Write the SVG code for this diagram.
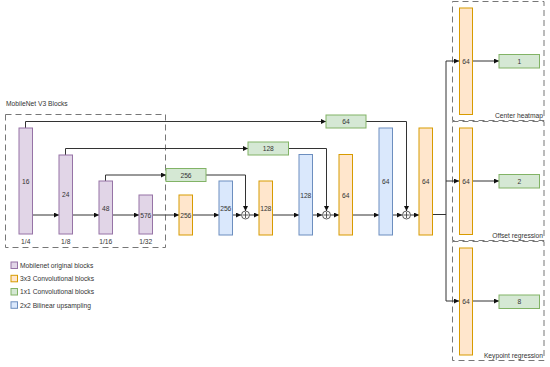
<svg xmlns="http://www.w3.org/2000/svg" width="550" height="367" viewBox="0 0 550 367">
<style>
text{font-family:"Liberation Sans",Arial,sans-serif;font-size:6.7px;fill:#333}
.c{text-anchor:middle;dominant-baseline:central}
.p{fill:#e1d5e7;stroke:#9673a6;stroke-width:1}
.o{fill:#ffe6cc;stroke:#d79b00;stroke-width:1}
.g{fill:#d5e8d4;stroke:#82b366;stroke-width:1}
.b{fill:#dae8fc;stroke:#6c8ebf;stroke-width:1}
.dash{fill:none;stroke:#777;stroke-width:1;stroke-dasharray:6 4}
.ln{fill:none;stroke:#333;stroke-width:1}
.a{marker-end:url(#arr)}
.plus{fill:#fff;stroke:#333;stroke-width:0.8}
</style>
<defs>
<marker id="arr" viewBox="0 0 10 10" refX="10" refY="5" markerWidth="5" markerHeight="5" orient="auto" markerUnits="userSpaceOnUse">
<path d="M0,0 L10,5 L0,10 z" fill="#111"/>
</marker>
</defs>
<rect width="550" height="367" fill="#fff"/>

<!-- groups / frames -->
<g id="mobilenet-group">
<text x="6" y="106">MobileNet V3 Blocks</text>
<rect class="dash" x="5.5" y="114.5" width="160" height="133"/>
</g>
<g id="center-heatmap-group">
<rect class="dash" x="452.5" y="1.5" width="91.5" height="119"/>
<text x="543" y="118" text-anchor="end">Center heatmap</text>
</g>
<g id="offset-group">
<rect class="dash" x="452.5" y="121.5" width="91.5" height="119"/>
<text x="543" y="238" text-anchor="end">Offset regression</text>
</g>
<g id="keypoint-group">
<rect class="dash" x="452.5" y="241.5" width="91.5" height="119"/>
<text x="543" y="358" text-anchor="end">Keypoint regression</text>
</g>

<!-- connectors -->
<g id="connectors">
<path class="ln a" d="M32.5,215 H59"/>
<path class="ln a" d="M72.5,215 H99"/>
<path class="ln a" d="M112.5,215 H139"/>
<path class="ln a" d="M152.5,215 H179"/>
<path class="ln a" d="M192.5,215 H219"/>
<path class="ln a" d="M232.5,215 H241"/>
<path class="ln a" d="M249.5,215 H259"/>
<path class="ln a" d="M272.5,215 H299"/>
<path class="ln a" d="M312.5,215 H322"/>
<path class="ln a" d="M330.5,215 H339"/>
<path class="ln a" d="M352.5,215 H379"/>
<path class="ln a" d="M392.5,215 H402"/>
<path class="ln a" d="M410.5,215 H419"/>
<path class="ln" d="M432.5,214.5 H446"/>
<path class="ln" d="M446,61 V301"/>
<path class="ln a" d="M446,61 H459"/>
<path class="ln a" d="M446,181 H459"/>
<path class="ln a" d="M446,301 H459"/>
<path class="ln a" d="M472.5,61 H499"/>
<path class="ln a" d="M472.5,181 H499"/>
<path class="ln a" d="M472.5,301 H499"/>
<!-- skips -->
<path class="ln a" d="M25.5,128 V121.5 H326"/>
<path class="ln a" d="M65.5,155 V148.5 H248"/>
<path class="ln a" d="M105.5,181 V175 H166"/>
<path class="ln a" d="M206,175 H245.5 V211"/>
<path class="ln a" d="M288.5,148.5 H326.5 V211"/>
<path class="ln a" d="M366,121.5 H406.5 V211"/>
</g>

<!-- encoder -->
<g id="mb16"><rect class="p" x="19" y="128" width="13.5" height="106"/><text class="c" x="25.75" y="181">16</text><text class="c" x="25.75" y="241.5">1/4</text></g>
<g id="mb24"><rect class="p" x="59" y="155" width="13.5" height="79"/><text class="c" x="65.75" y="194.5">24</text><text class="c" x="65.75" y="241.5">1/8</text></g>
<g id="mb48"><rect class="p" x="99" y="181" width="13.5" height="53"/><text class="c" x="105.75" y="208">48</text><text class="c" x="105.75" y="241.5">1/16</text></g>
<g id="mb576"><rect class="p" x="139" y="195" width="13.5" height="39"/><text class="c" x="145.75" y="215">576</text><text class="c" x="145.75" y="241.5">1/32</text></g>

<!-- decoder -->
<g id="conv256"><rect class="o" x="179" y="195" width="13.5" height="40"/><text class="c" x="185.75" y="215">256</text></g>
<g id="skip256"><rect class="g" x="166" y="168.5" width="40" height="13"/><text class="c" x="186" y="175">256</text></g>
<g id="up256"><rect class="b" x="219" y="181" width="13.5" height="54"/><text class="c" x="225.75" y="208">256</text></g>
<g id="add1"><circle class="plus" cx="245.5" cy="215" r="4"/><path d="M242.5,215 H248.5 M245.5,212 V218" stroke="#333" stroke-width="0.8"/></g>
<g id="conv128"><rect class="o" x="259" y="181" width="13.5" height="54"/><text class="c" x="265.75" y="208">128</text></g>
<g id="skip128"><rect class="g" x="248" y="142" width="40.5" height="13"/><text class="c" x="268.25" y="148.5">128</text></g>
<g id="up128"><rect class="b" x="299" y="154.5" width="13.5" height="80.5"/><text class="c" x="305.75" y="195">128</text></g>
<g id="add2"><circle class="plus" cx="326.5" cy="215" r="4"/><path d="M323.5,215 H329.5 M326.5,212 V218" stroke="#333" stroke-width="0.8"/></g>
<g id="conv64a"><rect class="o" x="339" y="154.5" width="13.5" height="80.5"/><text class="c" x="345.75" y="195">64</text></g>
<g id="skip64"><rect class="g" x="326" y="115" width="40" height="13"/><text class="c" x="346" y="121.5">64</text></g>
<g id="up64"><rect class="b" x="379" y="128" width="13.5" height="107"/><text class="c" x="385.75" y="181">64</text></g>
<g id="add3"><circle class="plus" cx="406.5" cy="215" r="4"/><path d="M403.5,215 H409.5 M406.5,212 V218" stroke="#333" stroke-width="0.8"/></g>
<g id="conv64b"><rect class="o" x="419" y="128" width="13.5" height="107"/><text class="c" x="425.75" y="181">64</text></g>

<!-- heads -->
<g id="head1-conv"><rect class="o" x="459.5" y="8" width="13" height="106.5"/><text class="c" x="466" y="61">64</text></g>
<g id="head1-out"><rect class="g" x="499" y="54.5" width="40.5" height="13.5"/><text class="c" x="519.25" y="61.25">1</text></g>
<g id="head2-conv"><rect class="o" x="459.5" y="128" width="13" height="106.5"/><text class="c" x="466" y="181">64</text></g>
<g id="head2-out"><rect class="g" x="499" y="174.5" width="40.5" height="13.5"/><text class="c" x="519.25" y="181.25">2</text></g>
<g id="head3-conv"><rect class="o" x="459.5" y="248" width="13" height="107"/><text class="c" x="466" y="301">64</text></g>
<g id="head3-out"><rect class="g" x="499" y="295" width="40.5" height="13.5"/><text class="c" x="519.25" y="301.75">8</text></g>

<!-- legend -->
<g id="legend">
<rect class="p" x="11" y="262" width="6.5" height="6.5"/><text x="20" y="267.7">Mobilenet original blocks</text>
<rect class="o" x="11" y="275.3" width="6.5" height="6.5"/><text x="20" y="281">3x3 Convolutional blocks</text>
<rect class="g" x="11" y="288.5" width="6.5" height="6.5"/><text x="20" y="294.2">1x1 Convolutional blocks</text>
<rect class="b" x="11" y="301.8" width="6.5" height="6.5"/><text x="20" y="307.5">2x2 Bilinear upsampling</text>
</g>
</svg>
